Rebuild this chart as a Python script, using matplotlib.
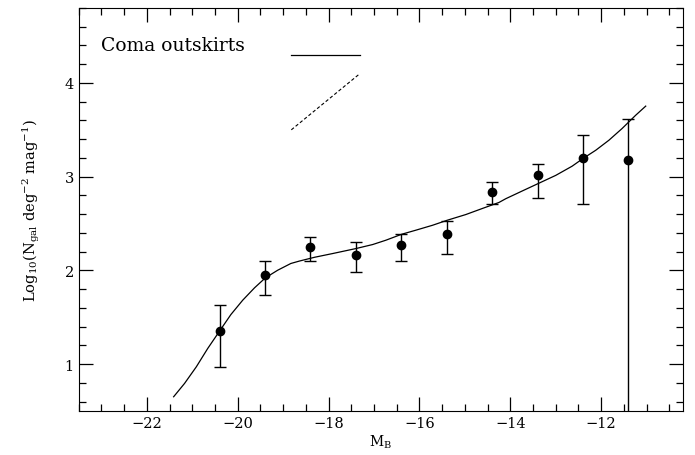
import matplotlib.pyplot as plt
from matplotlib.ticker import MultipleLocator

plt.rcParams['font.family'] = ['DejaVu Serif']
plt.rcParams['mathtext.fontset'] = 'dejavuserif'

# data points with error bars
mag = [-20.4, -19.4, -18.4, -17.4, -16.4, -15.4, -14.4, -13.4, -12.4, -11.4]
logn = [1.35, 1.95, 2.25, 2.16, 2.27, 2.39, 2.84, 3.02, 3.20, 3.18]
err_hi = [1.63, 2.10, 2.36, 2.30, 2.39, 2.53, 2.94, 3.14, 3.44, 3.62]
err_lo = [0.97, 1.74, 2.10, 1.98, 2.10, 2.18, 2.71, 2.77, 2.71, -1.0]

# fitted curve
fit_x = [-21.41, -21.17, -20.91, -20.66, -20.40, -20.15, -19.89, -19.63, -19.39,
         -19.12, -18.83, -18.64, -18.31, -17.91, -17.40, -17.03, -16.74, -16.39,
         -16.08, -15.71, -15.39, -14.98, -14.62, -14.25, -14.10, -13.74, -13.39,
         -13.00, -12.64, -12.40, -12.12, -11.83, -11.54, -11.24, -11.02]
fit_y = [0.652, 0.794, 0.972, 1.167, 1.352, 1.529, 1.682, 1.814, 1.921,
         2.002, 2.074, 2.100, 2.140, 2.180, 2.233, 2.276, 2.322, 2.386,
         2.429, 2.482, 2.535, 2.596, 2.660, 2.725, 2.765, 2.847, 2.926,
         3.014, 3.112, 3.194, 3.282, 3.389, 3.514, 3.656, 3.753]

# key lines in the upper left
solid_x = [-18.82, -17.31]
solid_y = [4.294, 4.294]
dash_x = [-18.82, -17.31]
dash_y = [3.50, 4.10]

fig = plt.figure(figsize=(6.95, 4.56), dpi=100)
ax = fig.add_axes([0.1132, 0.0965, 0.8695, 0.8838])

lo = [v - l for v, l in zip(logn, err_lo)]
hi = [h - v for v, h in zip(logn, err_hi)]
ax.errorbar(mag, logn, yerr=[lo, hi], fmt='o', color='black', ms=6,
            capsize=4, elinewidth=1.0, capthick=1.0)
ax.plot(fit_x, fit_y, color='black', lw=0.9)

ax.plot(solid_x, solid_y, color='black', lw=0.9)
ax.plot(dash_x, dash_y, color='black', lw=0.8, ls=(0, (3, 2)))
ax.text(-23.0, 4.40, 'Coma outskirts', fontsize=13.5, va='center', ha='left')

ax.set_xlim(-23.5, -10.2)
ax.set_ylim(0.5, 4.8)
ax.xaxis.set_major_locator(MultipleLocator(2))
ax.xaxis.set_minor_locator(MultipleLocator(0.5))
ax.yaxis.set_major_locator(MultipleLocator(1))
ax.yaxis.set_minor_locator(MultipleLocator(0.2))
ax.tick_params(which='both', direction='in', top=True, right=True, labelsize=10.5)
ax.tick_params(which='major', length=10, width=0.9)
ax.tick_params(which='minor', length=5, width=0.9)

ax.set_xlabel('M$_\\mathrm{B}$', fontsize=10, labelpad=2)
ax.set_ylabel('Log$_{10}$(N$_\\mathrm{gal}$ deg$^{-2}$ mag$^{-1}$)', fontsize=10.5,
              labelpad=16)

fig.savefig('out.png', dpi=100)
